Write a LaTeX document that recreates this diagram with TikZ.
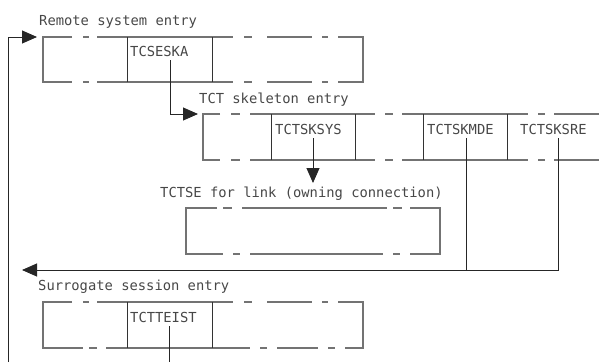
\documentclass[tikz,border=0pt]{standalone}
\usepackage{fontspec}
\newfontfamily\dmono{DejaVu Sans Mono}
\usetikzlibrary{arrows.meta}
\begin{document}
\begin{tikzpicture}[x=1pt,y=-1pt,
  lbl/.style={font=\dmono\fontsize{13.8}{16}\selectfont, text=black!72, inner sep=0pt, anchor=base west},
  edge/.style={draw=black!55, line width=1.3pt},
  divider/.style={draw=black!80, line width=0.9pt},
  conn/.style={draw=black!85, line width=0.9pt},
  arr/.style={conn, -{Triangle[length=15pt,width=13pt]}}]
\useasboundingbox (0,0) rectangle (599,362);

% ---------- labels ----------
\node[lbl] (t1) at (39,25) {Remote system entry};
\node[lbl] (tcseska) at (130,56) {TCSESKA};
\node[lbl] (t2) at (199,103) {TCT skeleton entry};
\node[lbl] (tctsksys) at (275,134) {TCTSKSYS};
\node[lbl] (tctskmde) at (427,134) {TCTSKMDE};
\node[lbl] (tctsksre) at (520,134) {TCTSKSRE};
\node[lbl] (t3) at (160,197) {TCTSE for link (owning connection)};
\node[lbl] (t4) at (38,290) {Surrogate session entry};
\node[lbl] (tcttei) at (130,322) {TCTTEIST};

% ---------- box 1 : remote system entry ----------
\coordinate (box1) at (43,37);
\draw[edge] (72,37) -| (43,82) -- (72,82);
\draw[edge] (338,37) -| (363,82) -- (338,82);
\foreach \a/\b in {83/89,97/233,244/252,267/312,322/328}{
  \draw[edge] (\a,37) -- (\b,37);
  \draw[edge] (\a,82) -- (\b,82);
}
\foreach \x in {127,212}{\draw[divider] (\x,37) -- (\x,82);}

% ---------- box 2 : TCT skeleton entry ----------
\coordinate (box2) at (203,114);
\draw[edge] (220,114) -| (203,160) -- (220,160);
\foreach \a/\b in {231/240,250/375,385/393,402/528,538/545,554/599}{
  \draw[edge] (\a,114) -- (\b,114);
  \draw[edge] (\a,160) -- (\b,160);
}
\foreach \x in {271,355,423,507}{\draw[divider] (\x,114) -- (\x,160);}

% ---------- box 3 : TCTSE for link ----------
\coordinate (box3) at (186,208);
\draw[edge] (217,208) -| (186,254) -- (223,254);
\draw[edge] (410,208) -| (440,254) -- (410,254);
\foreach \a/\b in {223/232,242/387,393/402}{\draw[edge] (\a,208) -- (\b,208);}
\foreach \a/\b in {233/240,250/383,393/400}{\draw[edge] (\a,254) -- (\b,254);}

% ---------- box 4 : surrogate session entry ----------
\coordinate (box4) at (43,302);
\draw[edge] (72,302) -| (43,348) -- (83,348);
\draw[edge] (338,302) -| (363,348) -- (345,348);
\foreach \a/\b in {83/89,97/233,244/252,267/312,322/328}{\draw[edge] (\a,302) -- (\b,302);}
\foreach \a/\b in {89/97,106/250,260/267,277/318,328/335}{\draw[edge] (\a,348) -- (\b,348);}
\foreach \x in {127,212}{\draw[divider] (\x,302) -- (\x,348);}

% ---------- connector ends ----------
\coordinate (loopbot) at (8,362);
\coordinate (tip1) at (37,37);
\coordinate (s1) at (170,60);
\coordinate (tip2) at (198,114);
\coordinate (s2) at (313,138);
\coordinate (tip3) at (313,183);
\coordinate (s3) at (466,138);
\coordinate (j3) at (466,270);
\coordinate (s4) at (558,138);
\coordinate (tip4) at (22,270);
\coordinate (s5) at (169,326);
\coordinate (e5) at (169,362);

% ---------- connectors ----------
\draw[arr] (loopbot) |- (tip1);
\draw[arr] (s1) |- (tip2);
\draw[arr] (s2) -- (tip3);
\draw[conn] (s3) -- (j3);
\draw[arr] (s4) |- (tip4);
\draw[conn] (s5) -- (e5);
\end{tikzpicture}
\end{document}
